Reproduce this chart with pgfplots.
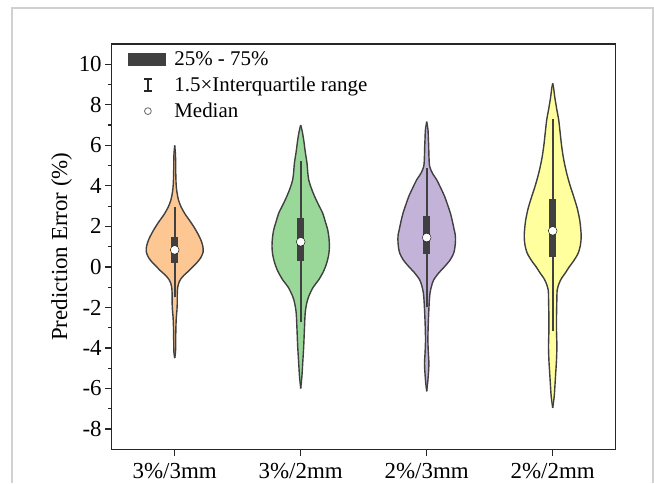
\documentclass[border=0pt]{standalone}
\usepackage{fontspec}
\setmainfont{Liberation Serif}
\usepackage{pgfplots}
\usepackage{pgfplotstable}
\pgfplotsset{compat=1.18}
\usepgfplotslibrary{fillbetween}
\definecolor{vorange}{HTML}{FDC793}
\definecolor{vgreen}{HTML}{9AD89A}
\definecolor{vpurple}{HTML}{C3B3D8}
\definecolor{vyellow}{HTML}{FFFF9E}
\definecolor{vline}{HTML}{404040}
\definecolor{boxc}{HTML}{404040}

% half-widths w in pixels (126 px = 1 category unit)
\pgfplotstableread{
y w
-4.50 0
-4.2 0.8
-3.6 1.0
-3.0 1.2
-2.5 1.6
-2.1 2.3
-1.7 2.6
-1.3 2.6
-1.0 3.0
-0.8 4.0
-0.6 6.0
-0.4 9.5
-0.2 14
0.0 18
0.2 22
0.45 26
0.75 28.5
1.05 28
1.35 26
1.65 23
1.95 19.5
2.25 15.5
2.6 10.5
2.95 6.5
3.3 3.8
3.7 2.2
4.1 1.4
4.8 1.0
5.5 0.8
6.0 0
}\vA
\pgfplotstableread{
y w
-6.0 0
-5.4 1.2
-4.75 2
-3.93 3
-3.1 3.7
-2.28 4.5
-1.8 6
-1.46 8
-1.0 12.5
-0.64 18
-0.2 23
0.19 26
0.6 28
1.0 28.7
1.4 28.3
1.83 27
2.25 24.5
2.65 22
3.05 18
3.47 14
3.9 10.5
4.3 8
4.7 7
5.12 6.3
5.7 4.5
6.27 3
6.7 1.5
7.0 0
}\vB
\pgfplotstableread{
y w
-6.14 0
-5.7 1.0
-5.2 1.8
-4.75 2.2
-4.2 1.6
-3.6 1.2
-2.9 1.5
-2.28 2
-1.7 2.6
-1.29 3.3
-0.95 4.8
-0.64 7
-0.3 12
0.02 18
0.35 23.5
0.68 27
1.0 28.3
1.34 28.8
1.6 28.5
1.83 27.5
2.25 25.7
2.65 23.7
3.05 21
3.47 18
3.9 14
4.3 10
4.6 6
4.95 3
5.4 2.3
5.94 2
6.4 1.6
6.76 1.3
7.17 0
}\vC
\pgfplotstableread{
y w
-6.96 0
-6.39 1.5
-5.8 2.3
-5.24 3
-4.6 3.8
-3.93 4.2
-3.5 4
-3.1 3.8
-2.5 3.8
-1.95 4
-1.5 4.2
-1.13 4.5
-0.8 6.5
-0.55 9
-0.31 12.5
0.0 16.5
0.3 21
0.68 25.5
1.1 27.8
1.5 28.5
1.9 28
2.32 27
2.9 24.5
3.47 21
4.0 17.5
4.62 14
5.3 11
5.94 9
6.6 7.5
7.25 6
7.8 4
8.4 2
8.8 1
9.06 0
}\vD

\begin{document}
\begin{tikzpicture}
\begin{axis}[
  scale only axis, width=504bp, height=405.3bp,
  xmin=0.5, xmax=4.5, ymin=-9, ymax=11,
  xtick={1,2,3,4},
  xticklabels={3\%/3mm, 3\%/2mm, 2\%/3mm, 2\%/2mm},
  ytick={-8,-6,...,10}, minor ytick={-7,-5,...,9},
  tick align=outside, xtick pos=bottom, ytick pos=left,
  major tick length=6.5bp, minor tick length=3.5bp,
  axis line style={line width=1.3bp, color=black!85},
  every tick/.style={line width=1.2bp, black!85},
  tick label style={font=\fontsize{23}{27}\selectfont},
  xticklabel style={yshift=-4bp},
  /pgf/number format/assume math mode=true,
  ylabel={Prediction Error (\%)},
  ylabel style={font=\fontsize{23}{27}\selectfont},
  legend style={at={(rel axis cs:0,1)}, anchor=north west, xshift=16bp, yshift=-6bp,
    draw=none, fill=none, inner sep=0pt, row sep=7bp,
    font=\fontsize{21}{25}\selectfont,
    nodes={inner sep=1.5bp}},
  legend cell align=left,
  smooth, tension=0.5,
]
\addlegendimage{legend image code/.code={
  \path[draw=none, fill=none] (0bp,-7bp) rectangle (45bp,7bp);
  \fill[boxc, draw=none] (0bp,-6.7bp) rectangle (38bp,6.7bp);}}
\addlegendentry{25\% - 75\%}
\addlegendimage{legend image code/.code={
  \path[draw=none, fill=none] (0bp,-7bp) rectangle (45bp,7bp);
  \draw[black!85, line width=1.3bp] (20bp,-6bp) -- (20bp,6bp)
     (16bp,6bp) -- (24bp,6bp) (16bp,-6bp) -- (24bp,-6bp);}}
\addlegendentry{1.5×Interquartile range}
\addlegendimage{legend image code/.code={
  \path[draw=none, fill=none] (0bp,-7bp) rectangle (45bp,7bp);
  \draw[vline!80, fill=none, line width=0.8bp] (20bp,0bp) circle (3.4bp);}}
\addlegendentry{Median}

% violins
\addplot[name path=A1, draw=vline, line width=1.4bp, forget plot] table[x expr=1+\thisrow{w}/126, y=y]{\vA};
\addplot[name path=A2, draw=vline, line width=1.4bp, forget plot] table[x expr=1-\thisrow{w}/126, y=y]{\vA};
\addplot[fill=vorange, draw=none, forget plot] fill between[of=A1 and A2];
\addplot[name path=B1, draw=vline, line width=1.4bp, forget plot] table[x expr=2+\thisrow{w}/126, y=y]{\vB};
\addplot[name path=B2, draw=vline, line width=1.4bp, forget plot] table[x expr=2-\thisrow{w}/126, y=y]{\vB};
\addplot[fill=vgreen, draw=none, forget plot] fill between[of=B1 and B2];
\addplot[name path=C1, draw=vline, line width=1.4bp, forget plot] table[x expr=3+\thisrow{w}/126, y=y]{\vC};
\addplot[name path=C2, draw=vline, line width=1.4bp, forget plot] table[x expr=3-\thisrow{w}/126, y=y]{\vC};
\addplot[fill=vpurple, draw=none, forget plot] fill between[of=C1 and C2];
\addplot[name path=D1, draw=vline, line width=1.4bp, forget plot] table[x expr=4+\thisrow{w}/126, y=y]{\vD};
\addplot[name path=D2, draw=vline, line width=1.4bp, forget plot] table[x expr=4-\thisrow{w}/126, y=y]{\vD};
\addplot[fill=vyellow, draw=none, forget plot] fill between[of=D1 and D2];

% whiskers
\addplot[boxc, line width=1.8bp, sharp plot, forget plot] coordinates {(1,-1.46) (1,2.95)};
\addplot[boxc, line width=1.8bp, sharp plot, forget plot] coordinates {(2,-2.74) (2,5.25)};
\addplot[boxc, line width=1.8bp, sharp plot, forget plot] coordinates {(3,-2.0) (3,4.9)};
\addplot[boxc, line width=1.8bp, sharp plot, forget plot] coordinates {(4,-3.18) (4,7.29)};
% boxes (25%-75%)
\addplot[boxc, line width=7bp, sharp plot, forget plot] coordinates {(1,0.19) (1,1.47)};
\addplot[boxc, line width=7bp, sharp plot, forget plot] coordinates {(2,0.30) (2,2.40)};
\addplot[boxc, line width=7bp, sharp plot, forget plot] coordinates {(3,0.63) (3,2.52)};
\addplot[boxc, line width=7bp, sharp plot, forget plot] coordinates {(4,0.51) (4,3.34)};
% medians
\addplot[only marks, mark=*, mark size=4.4bp, mark options={fill=white, draw=none}, forget plot]
  coordinates {(1,0.84) (2,1.24) (3,1.45) (4,1.78)};
\end{axis}
\draw[black!18, line width=1.5bp]
  ([shift={(-99.7bp,-33.7bp)}]current axis.south west) --
  ([shift={(-99.7bp,441.3bp)}]current axis.south west) --
  ([shift={(541.3bp,441.3bp)}]current axis.south west) --
  ([shift={(541.3bp,-33.7bp)}]current axis.south west);
\path[use as bounding box]
  ([shift={(-111.7bp,-33.7bp)}]current axis.south west) rectangle
  ([shift={(542.3bp,449.3bp)}]current axis.south west);
\end{tikzpicture}
\end{document}
